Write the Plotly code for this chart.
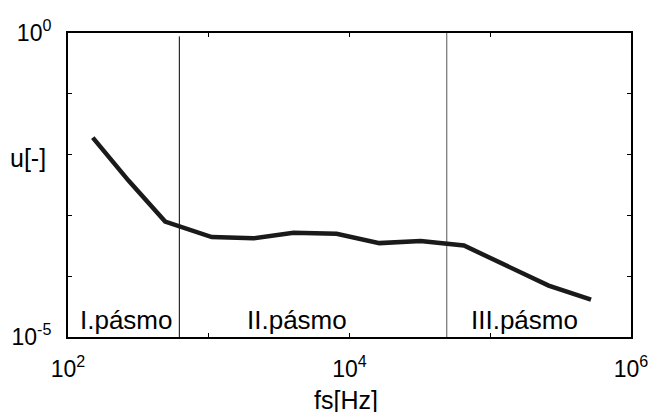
import numpy as np
import plotly.graph_objects as go

freq_hz = [150, 270, 490, 1050, 2080, 4000, 8100, 16300, 32000, 65000, 260000, 520000]
u_vals = [0.019, 0.0037, 7.9e-4, 4.4e-4, 4.2e-4, 5.2e-4, 5.0e-4, 3.5e-4, 3.8e-4, 3.2e-4, 7.0e-5, 4.1e-5]
band_edges = [618, 49100]
band_labels = ["I.pásmo", "II.pásmo", "III.pásmo"]
band_label_x = [260, 4240, 176000]
x_tickvals = [1e2, 1e3, 1e4, 1e5, 1e6]
x_ticktext = ["10<sup>2</sup>", "", "10<sup>4</sup>", "", "10<sup>6</sup>"]
y_tickvals = [1e-5, 1e-4, 1e-3, 1e-2, 1e-1, 1e0]
y_ticktext = ["10<sup>-5</sup>", "", "", "", "", "10<sup>0</sup>"]

FONT = "Liberation Sans, Arial, sans-serif"

fig = go.Figure()
fig.add_trace(go.Scatter(x=[band_edges[0]] * 2, y=[1e-5, 0.88], mode="lines",
                         line=dict(color="black", width=1), showlegend=False, hoverinfo="skip"))
fig.add_trace(go.Scatter(x=[band_edges[1]] * 2, y=[1e-5, 1], mode="lines",
                         line=dict(color="#555555", width=1), showlegend=False, hoverinfo="skip"))
fig.add_trace(go.Scatter(x=freq_hz, y=u_vals, mode="lines",
                         line=dict(color="#1a1a1a", width=4.5), showlegend=False))

for lab, xv in zip(band_labels, band_label_x):
    fig.add_annotation(x=np.log10(xv), y=0.056, xref="x", yref="paper", text=lab,
                       showarrow=False, font=dict(family=FONT, size=26, color="black"),
                       xanchor="center", yanchor="middle")

fig.add_annotation(x=-0.071, y=0.59, xref="paper", yref="paper", text="u[-]",
                   showarrow=False, font=dict(family=FONT, size=25, color="black"),
                   xanchor="center", yanchor="middle")
fig.add_annotation(x=0.493, y=-0.207, xref="paper", yref="paper", text="fs[Hz]",
                   showarrow=False, font=dict(family=FONT, size=25, color="black"),
                   xanchor="center", yanchor="middle")

axis_common = dict(showgrid=False, zeroline=False, showline=True, linecolor="black",
                   linewidth=2, mirror="ticks", ticks="inside", ticklen=4, tickwidth=1,
                   tickcolor="black", tickfont=dict(family=FONT, size=23, color="black"),
                   automargin=False)

fig.update_xaxes(type="log", range=[2, 6], tickvals=x_tickvals, ticktext=x_ticktext,
                 ticklabelstandoff=10, **axis_common)
fig.update_yaxes(type="log", range=[-5, 0], tickvals=y_tickvals, ticktext=y_ticktext,
                 ticklabelstandoff=10, **axis_common)

fig.update_layout(width=653, height=412, margin=dict(l=68, r=22, t=33, b=75),
                  paper_bgcolor="white", plot_bgcolor="white",
                  font=dict(family=FONT, color="black"))

fig.write_html("out.html", config={"displayModeBar": False},
               post_script="document.body.style.margin='0';document.body.style.overflow='hidden';")
